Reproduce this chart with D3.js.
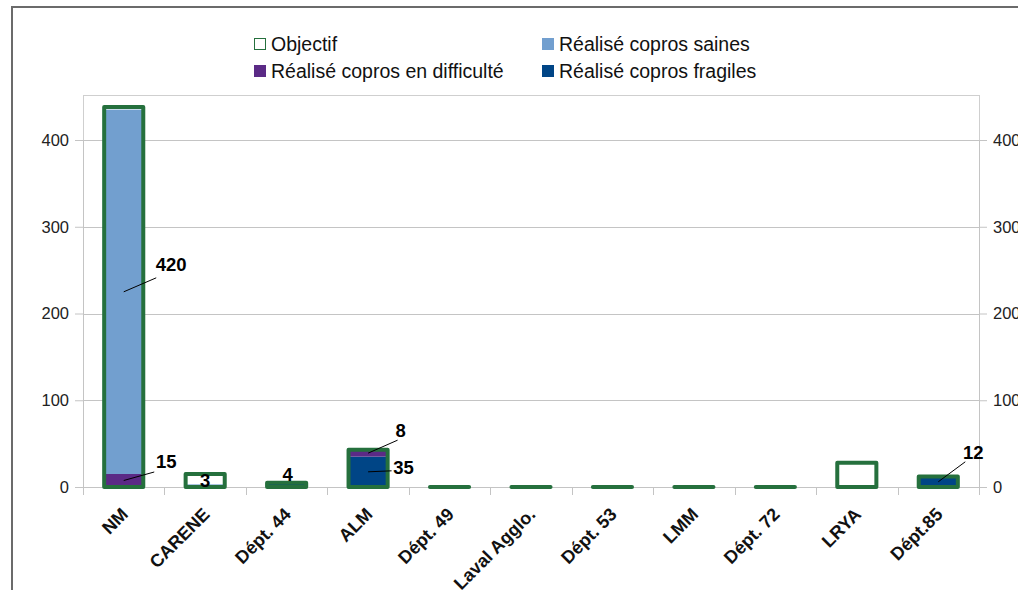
<!DOCTYPE html>
<html><head><meta charset="utf-8">
<script src="https://cdn.jsdelivr.net/npm/d3@7"></script>
<style>body{margin:0;background:#fff;overflow:hidden}svg{display:block;font-family:"Liberation Sans",Arial,sans-serif}</style>
</head><body>
<svg id="c" width="1018" height="590"></svg>
<script>
const categories = ["NM","CARENE","Dépt. 44","ALM","Dépt. 49","Laval Agglo.","Dépt. 53","LMM","Dépt. 72","LRYA","Dépt.85"];
const objectif   = [438, 15, 5, 43, 0, 0, 0, 0, 0, 28, 12];
const difficulte = [15, 0, 0, 8, 0, 0, 0, 0, 0, 0, 0];
const fragiles   = [0, 0, 4, 35, 0, 0, 0, 0, 0, 0, 12];
const saines     = [420, 3, 0, 0, 0, 0, 0, 0, 0, 0, 0];
const yTicks = [0, 100, 200, 300, 400];
// data labels: [category index, series, value]
const labels = [[0,"saines",420],[0,"difficulte",15],[1,"saines",3],[2,"fragiles",4],[3,"difficulte",8],[3,"fragiles",35],[10,"fragiles",12]];

const colors = {difficulte:"#5b2a86", fragiles:"#004586", saines:"#729fcf", obj:"#25703d"};
const svg = d3.select("#c");
const L = 83, R = 979, T = 95, B = 487;
const x = d3.scaleBand().domain(categories).range([L, R]).paddingInner(0.52).paddingOuter(0.26);
const y = d3.scaleLinear().domain([0, 400]).range([B, B - 347]);

// outer frame (left + top visible)
svg.append("path").attr("d","M12,600 L12,7 L1030,7").attr("fill","none").attr("stroke","#6b6b6b").attr("stroke-width",2);
// plot frame
svg.append("rect").attr("x",L+0.5).attr("y",T+0.5).attr("width",R-L).attr("height",B-T)
  .attr("fill","none").attr("stroke","#cfcfcf").attr("stroke-width",1);
// gridlines
svg.append("g").selectAll("line").data(yTicks).join("line")
  .attr("x1",L).attr("x2",R).attr("y1",d=>Math.round(y(d))+0.5).attr("y2",d=>Math.round(y(d))+0.5)
  .attr("stroke","#c4c4c4");

// axes
const gl = svg.append("g").attr("transform",`translate(${L},0)`)
  .call(d3.axisLeft(y).tickValues(yTicks).tickSize(8).tickPadding(6));
const gr = svg.append("g").attr("transform",`translate(${R},0)`)
  .call(d3.axisRight(y).tickValues(yTicks).tickSize(8).tickPadding(6));
[gl,gr].forEach(g=>{
  g.select(".domain").attr("stroke","#c4c4c4");
  g.selectAll(".tick line").attr("stroke","#c4c4c4");
  g.selectAll("text").attr("font-size",16.5).attr("fill","#222").attr("font-family","Liberation Sans, Arial, sans-serif");
});
// x ticks at band boundaries
const bounds = d3.range(categories.length+1).map(i => L + i*(R-L)/categories.length);
svg.append("g").selectAll("line").data(bounds).join("line")
  .attr("x1",d=>Math.round(d)+0.5).attr("x2",d=>Math.round(d)+0.5).attr("y1",B).attr("y2",B+8).attr("stroke","#c4c4c4");
svg.append("line").attr("x1",L).attr("x2",R).attr("y1",B+0.5).attr("y2",B+0.5).attr("stroke","#c4c4c4");

// category labels
svg.append("g").selectAll("text").data(categories).join("text")
  .attr("transform",d=>`translate(${x(d)+x.bandwidth()/2+1},${B+24}) rotate(-45)`)
  .attr("text-anchor","end").attr("font-size",18).attr("font-weight","bold").attr("fill","#111")
  .attr("dy","0.35em").text(d=>d);

const bw = x.bandwidth();
const objPath = (d,i) => {
  const x0 = x(d), x1 = x(d)+bw, yt = y(objectif[i]);
  return `M${x0},${B} L${x0},${yt} L${x1},${yt} L${x1},${B} Z`;
};
// objective background (white)
svg.append("g").selectAll("rect").data(categories).join("rect")
  .attr("x",d=>x(d)).attr("width",bw)
  .attr("y",(d,i)=>y(objectif[i])).attr("height",(d,i)=>B-y(objectif[i]))
  .attr("fill","#fff");
// stacked realised
const order = ["fragiles","difficulte","saines"];
const rows = categories.map((c,i)=>({c, difficulte:difficulte[i], fragiles:fragiles[i], saines:saines[i]}));
const stacked = d3.stack().keys(order)(rows);
svg.append("g").selectAll("g").data(stacked).join("g").attr("fill",s=>colors[s.key])
  .selectAll("rect").data(s=>s).join("rect")
  .attr("x",d=>x(d.data.c)).attr("width",bw)
  .attr("y",d=>y(d[1])).attr("height",d=>y(d[0])-y(d[1]));
// objective outline
svg.append("g").selectAll("path").data(categories).join("path")
  .attr("d",objPath)
  .attr("fill","none").attr("stroke",colors.obj).attr("stroke-width",4).attr("stroke-linejoin","round");

// data labels with leader lines
const stackMap = {};
stacked.forEach(s=>s.forEach((d,i)=>{stackMap[s.key+"_"+i]=d;}));
// [text dx, text dy from segment centre, leader end dx, dy from text centre or null]
const offsets = {
  "0_saines":[47.5,-27,-15,13], "0_difficulte":[42.5,-18.5,-12,10], "1_saines":[0,-5,null,null],
  "2_fragiles":[1,-11,null,null], "3_difficulte":[32.5,-23,-3,10], "3_fragiles":[35.5,-4,-12,3], "10_fragiles":[35,-29,-8,9]
};
const lg = svg.append("g");
labels.forEach(([i,key,v])=>{
  const d = stackMap[key+"_"+i];
  const cx = x(categories[i]) + bw/2;
  const cy = (y(d[0])+y(d[1]))/2;
  const [dx,dy,ldx,ldy] = offsets[i+"_"+key];
  const tx = cx+dx, ty = cy+dy;
  if (ldx !== null) {
    lg.append("line").attr("x1",cx).attr("y1",cy).attr("x2",tx+ldx).attr("y2",ty+ldy)
      .attr("stroke","#000").attr("stroke-width",1);
  }
  lg.append("text").attr("x",tx).attr("y",ty).attr("text-anchor","middle").attr("dy","0.35em")
    .attr("font-size",18.5).attr("font-weight","bold").attr("fill","#000").text(v);
});

// legend
const legend = [["Objectif","obj",271,44],["Réalisé copros saines","saines",559,44],["Réalisé copros en difficulté","difficulte",271,71],["Réalisé copros fragiles","fragiles",559,71]];
const lgd = svg.append("g");
legend.forEach(([t,k,tx,ly])=>{
  const sx = tx - 17;
  if (k==="obj") lgd.append("rect").attr("x",sx+0.5).attr("y",ly-5.5).attr("width",11).attr("height",11).attr("fill","#fff").attr("stroke",colors.obj).attr("stroke-width",1);
  else lgd.append("rect").attr("x",sx).attr("y",ly-6).attr("width",12).attr("height",12).attr("fill",colors[k]);
  lgd.append("text").attr("x",tx).attr("y",ly).attr("dy","0.35em").attr("font-size",19.5).attr("fill","#111").text(t);
});
</script>
</body></html>
